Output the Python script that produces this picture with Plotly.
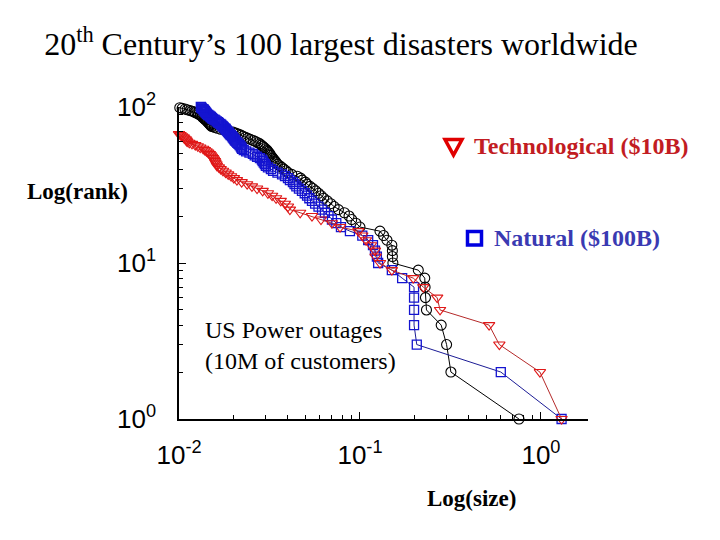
import plotly.graph_objects as go

# ---- data: event size (normalised) listed by rank (rank 1 = largest) ----
outage_size = [
    0.756, 0.318, 0.301, 0.281, 0.233, 0.230, 0.229, 0.228, 0.210, 0.152,
    0.151, 0.151, 0.150, 0.141, 0.135, 0.129, 0.100, 0.095, 0.090, 0.087,
    0.082, 0.076, 0.072, 0.069, 0.066, 0.063, 0.061, 0.059, 0.057, 0.055,
    0.053, 0.051, 0.050, 0.048, 0.047, 0.045, 0.042, 0.040, 0.039, 0.038,
    0.037, 0.036, 0.035, 0.0345, 0.034, 0.0335, 0.033, 0.0325, 0.032, 0.0318,
    0.0314, 0.031, 0.0306, 0.030, 0.0295, 0.029, 0.0285, 0.028, 0.0273, 0.0265,
    0.0257, 0.0248, 0.0240, 0.0233, 0.0226, 0.0220, 0.0213, 0.0206, 0.0199, 0.0188,
    0.0178, 0.0170, 0.0163, 0.0157, 0.0152, 0.0150, 0.0149, 0.0147, 0.0146, 0.0144,
    0.0143, 0.0141, 0.0140, 0.0138, 0.0137, 0.0135, 0.0134, 0.0132, 0.0131, 0.0128,
    0.0126, 0.0123, 0.0121, 0.0118, 0.0115, 0.0111, 0.0108, 0.0104, 0.0101, 0.00975,
]

natural_size = [
    1.30, 0.60, 0.206, 0.199, 0.199, 0.199, 0.199, 0.171, 0.150, 0.126,
    0.124, 0.121, 0.118, 0.111, 0.103, 0.088, 0.0785, 0.074, 0.070, 0.067,
    0.064, 0.0617, 0.059, 0.0565, 0.0543, 0.0525, 0.051, 0.0495, 0.0478, 0.046,
    0.0445, 0.0435, 0.0426, 0.041, 0.040, 0.0385, 0.0371, 0.035, 0.0331, 0.0322,
    0.031, 0.0302, 0.0298, 0.0294, 0.029, 0.0287, 0.028, 0.027, 0.0262, 0.0256,
    0.0245, 0.0235, 0.0228, 0.0223, 0.0221, 0.0219, 0.0216, 0.0213, 0.0210, 0.0207,
    0.0204, 0.0202, 0.0200, 0.0198, 0.0196, 0.0193, 0.0191, 0.0189, 0.0187, 0.0185,
    0.0183, 0.0181, 0.0180, 0.0177, 0.0175, 0.0173, 0.0171, 0.0169, 0.0166, 0.0164,
    0.0162, 0.0159, 0.0157, 0.0154, 0.0152, 0.0150, 0.0149, 0.0147, 0.0145, 0.0143,
    0.0142, 0.0141, 0.0140, 0.0139, 0.0138, 0.0137, 0.0136, 0.0134, 0.0133, 0.0132,
]

tech_size = [
    1.30, 0.987, 0.589, 0.517, 0.277, 0.267, 0.224, 0.197, 0.150, 0.129,
    0.122, 0.121, 0.115, 0.108, 0.103, 0.098, 0.0776, 0.070, 0.0609, 0.0543,
    0.0467, 0.041, 0.040, 0.0385, 0.0365, 0.0344, 0.0327, 0.031, 0.029, 0.027,
    0.0253, 0.0238, 0.0222, 0.0209, 0.0201, 0.0194, 0.0187, 0.0181, 0.0175, 0.0170,
    0.0166, 0.0162, 0.0161, 0.0159, 0.0158, 0.0156, 0.0154, 0.0152, 0.0150, 0.0148,
    0.0145, 0.0142, 0.0139, 0.0136, 0.0131, 0.0127, 0.0123, 0.0118, 0.0114, 0.0111,
    0.0110, 0.0109, 0.0107, 0.0106, 0.0104, 0.0102, 0.0100, 0.0099,
]

outage_rank = list(range(1, len(outage_size) + 1))
natural_rank = list(range(1, len(natural_size) + 1))
tech_rank = list(range(1, len(tech_size) + 1))

x_tickvals = [0.01, 0.1, 1]
x_ticktext = ["10<sup>-2</sup>", "10<sup>-1</sup>", "10<sup>0</sup>"]
y_tickvals = [1, 10, 100]
y_ticktext = ["10<sup>0</sup>", "10<sup>1</sup>", "10<sup>2</sup>"]

# ---- layout geometry (pixels of the 720x540 canvas) ----
W, H = 720, 540
L, R, T, B = 179, 588, 107, 419


def px(xp):
    return (xp - L) / (R - L)


def py(yp):
    return (B - yp) / (B - T)


fig = go.Figure()

fig.add_trace(go.Scatter(
    x=outage_size, y=outage_rank, mode="lines+markers", cliponaxis=False,
    line=dict(color="black", width=1),
    marker=dict(symbol="circle-open", size=10, color="black", line=dict(width=1.1)),
    showlegend=False,
))
fig.add_trace(go.Scatter(
    x=natural_size, y=natural_rank, mode="lines+markers", cliponaxis=False,
    line=dict(color="#1c1c96", width=1),
    marker=dict(symbol="square-open", size=9, color="#1414d0", line=dict(width=1.3)),
    showlegend=False,
))
fig.add_trace(go.Scatter(
    x=tech_size, y=tech_rank, mode="lines+markers", cliponaxis=False,
    line=dict(color="#b52a2a", width=1),
    marker=dict(symbol="triangle-down-open", size=10, color="#e01818", line=dict(width=1.1)),
    showlegend=False,
))

serif = "Liberation Serif, Times New Roman, serif"
sans = "Liberation Sans, Arial, sans-serif"

annotations = [
    dict(text="<b>Log(rank)</b>", x=px(25), y=py(191), xanchor="left", yanchor="middle",
         font=dict(family=serif, size=23, color="black")),
    dict(text="<b>Log(size)</b>", x=px(471), y=py(498), xanchor="center", yanchor="middle",
         font=dict(family=serif, size=23, color="black")),
    dict(text="<b>Technological ($10B)</b>", x=px(472), y=py(146), xanchor="left", yanchor="middle",
         font=dict(family=serif, size=24, color="#c21c22")),
    dict(text="<b>Natural ($100B)</b>", x=px(492), y=py(238), xanchor="left", yanchor="middle",
         font=dict(family=serif, size=24, color="#3a3ab2")),
    dict(text="US Power outages<br>(10M of customers)", x=px(203), y=py(345), xanchor="left",
         yanchor="middle", align="left",
         font=dict(family=serif, size=24, color="black")),
]
for a in annotations:
    a.update(xref="paper", yref="paper", showarrow=False)

shapes = [
    dict(type="path", xref="paper", yref="paper",
         path=f"M {px(445)} {py(139.5)} L {px(462)} {py(139.5)} L {px(453.5)} {py(155)} Z",
         line=dict(color="#e00000", width=3.5)),
    dict(type="rect", xref="paper", yref="paper",
         x0=px(467.5), x1=px(481.5), y0=py(231.5), y1=py(245),
         line=dict(color="#0000e0", width=3.5)),
]

axis_common = dict(
    type="log", showgrid=False, zeroline=False, showline=True, linecolor="black",
    linewidth=1.5, ticks="inside", ticklen=7, tickwidth=1.2, tickcolor="black",
    tickfont=dict(family=sans, size=26, color="black"),
    minor=dict(ticks="inside", ticklen=4, tickwidth=1, tickcolor="black", dtick="D1"),
)

fig.update_layout(
    width=W, height=H,
    margin=dict(l=L, r=W - R, t=T, b=H - B),
    paper_bgcolor="white", plot_bgcolor="white",
    title=dict(text="20<sup>th</sup> Century’s 100 largest disasters worldwide",
               x=341 / W, y=1 - 44 / H, xref="container", yref="container",
               xanchor="center", yanchor="middle",
               font=dict(family=serif, size=32, color="black")),
    xaxis=dict(axis_common, range=[-2, 0.26], tickvals=x_tickvals, ticktext=x_ticktext,
               ticklabelstandoff=12),
    yaxis=dict(axis_common, range=[0, 2], tickvals=y_tickvals, ticktext=y_ticktext,
               ticklabelstandoff=16),
    annotations=annotations,
    shapes=shapes,
)

fig.write_html("out.html")
